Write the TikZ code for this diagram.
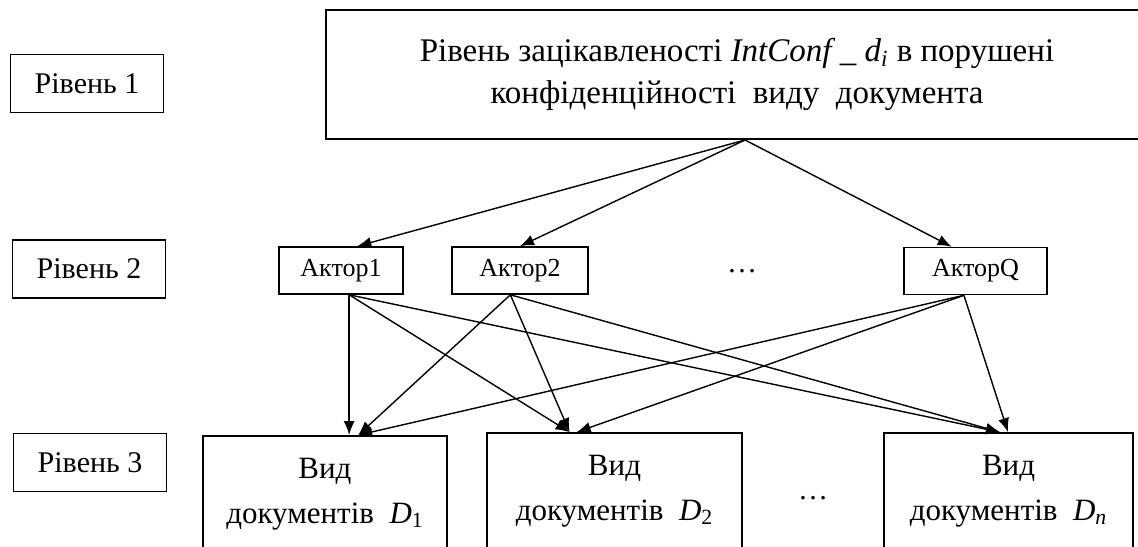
\documentclass[tikz,border=0pt]{standalone}
\usepackage{fontspec}
\setmainfont{Liberation Serif}
\usetikzlibrary{arrows.meta, calc}
\tikzset{
  lvlbox/.style={rectangle, draw, line width=0.9pt, minimum width=76.5pt,
                 minimum height=29pt, font=\fontsize{15}{18}\selectfont},
  actbox/.style={rectangle, draw, line width=0.8pt, minimum width=#1,
                 minimum height=23.5pt, font=\fontsize{13}{15}\selectfont},
  docbox/.style={rectangle, draw, line width=0.9pt, minimum width=#1,
                 minimum height=58pt, align=center,
                 font=\fontsize{15.5}{22.5}\selectfont},
  goalbox/.style={rectangle, draw, line width=1pt, minimum width=411pt,
                  minimum height=64.5pt, align=center,
                  font=\fontsize{16.5}{21}\selectfont},
  dotsnode/.style={font=\fontsize{15}{18}\selectfont},
  arr/.style={-{Latex[length=7pt, width=5.5pt]}, line width=0.7pt},
}

\begin{document}
\begin{tikzpicture}[x=0.5pt, y=-0.5pt]
  \useasboundingbox (0,0) rectangle (1138,546);
  \clip (0,0) rectangle (1138,546);

  % --- level labels (left column) ---
  \node[lvlbox] (lvl1) at (87,83.5) {Рівень 1};
  \node[lvlbox] (lvl2) at (89,269) {Рівень 2};
  \node[lvlbox] (lvl3) at (90,462.5) {Рівень 3};

  % --- level 1: interest in breaking confidentiality ---
  \node[goalbox] (goal) at (737,74.5)
    {Рівень зацікавленості {\itshape IntConf \_ d\textsubscript{i}} в порушені\\
     конфіденційності\ \ виду\ \ документа};

  % --- level 2: actors ---
  \node[actbox=62pt] (a1) at (341,270.5) {Актор1};
  \node[actbox=68pt] (a2) at (520,270.5) {Актор2};
  \node[dotsnode] (adots) at (742,271) {\dots};
  \node[actbox=71.5pt] (aq) at (975.5,271) {АкторQ};

  % --- level 3: document types (cut by the page edge) ---
  \node[docbox=122pt] (d1) at (325,494) {Вид\\документів\ \ {\itshape D}\textsubscript{1}};
  \node[docbox=127.5pt] (d2) at (614.5,491) {Вид\\документів\ \ {\itshape D}\textsubscript{2}};
  \node[dotsnode] (ddots) at (813,498) {\dots};
  \node[docbox=124.5pt] (dn) at (1008.5,491) {Вид\\документів\ \ {\itshape D}\textsubscript{\itshape n}};

  % ports on the box edges
  \coordinate (gout) at ($(goal.south)+(8,0)$);
  \coordinate (a1in) at ($(a1.north west)!0.63!(a1.north east)$);
  \coordinate (aqin) at ($(aq.north west)!0.335!(aq.north east)$);
  \coordinate (a1out) at ($(a1.south west)!0.565!(a1.south east)$);
  \coordinate (a2out) at ($(a2.south west)!0.43!(a2.south east)$);
  \coordinate (aqout) at ($(aq.south west)!0.42!(aq.south east)$);
  \coordinate (d1in) at ($(d1.north west)!0.635!(d1.north east)$);
  \coordinate (d2in) at ($(d2.north west)!0.325!(d2.north east)$);
  \coordinate (d2inq) at ($(d2.north west)!0.353!(d2.north east)$);
  \coordinate (dnin) at ($(dn.north west)!0.466!(dn.north east)$);
  \coordinate (dninq) at ($(dn.north west)!0.498!(dn.north east)$);

  % goal -> actors
  \draw[arr] (gout) -- (a1in);
  \draw[arr] (gout) -- (a2.north);
  \draw[arr] (gout) -- (aqin);

  % actors -> document types
  \draw[arr] (a1out) -- (a1out |- d1.north);
  \draw[arr] (a1out) -- (d2in);
  \draw[arr] (a1out) -- (dnin);
  \draw[arr] (a2out) -- (d1in);
  \draw[arr] (a2out) -- (d2in);
  \draw[arr] (a2out) -- (dnin);
  \draw[arr] (aqout) -- (d1in);
  \draw[arr] (aqout) -- (d2inq);
  \draw[arr] (aqout) -- (dninq);
\end{tikzpicture}
\end{document}
